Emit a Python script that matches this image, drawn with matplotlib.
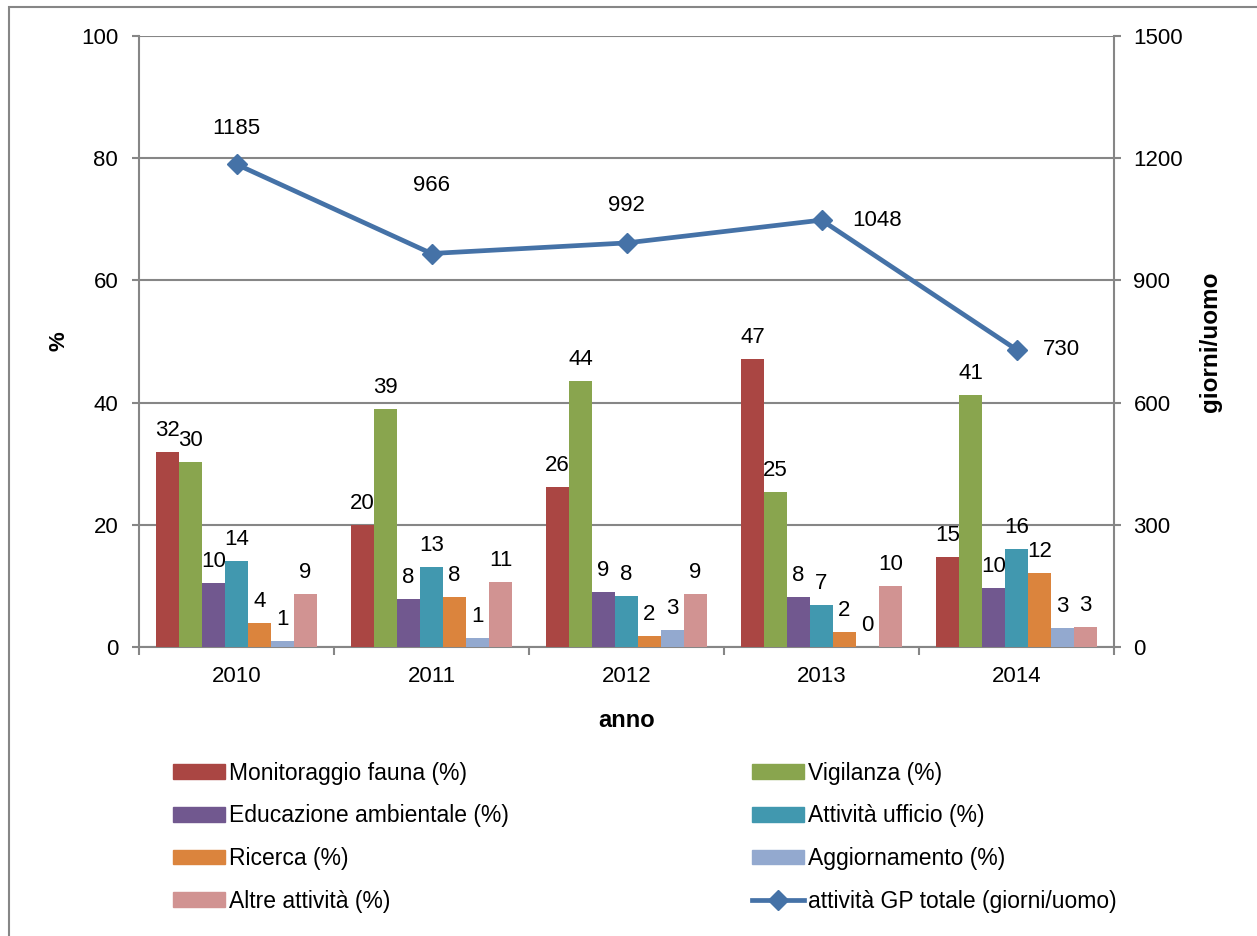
import matplotlib
matplotlib.use('Agg')
import matplotlib.pyplot as plt
import numpy as np
from matplotlib.patches import Rectangle, Patch
from matplotlib.lines import Line2D

plt.rcParams['font.family'] = ['Liberation Sans', 'DejaVu Sans']

# Dati
anni = ['2010', '2011', '2012', '2013', '2014']
serie = ['Monitoraggio fauna (%)', 'Vigilanza (%)', 'Educazione ambientale (%)',
         'Attività ufficio (%)', 'Ricerca (%)', 'Aggiornamento (%)', 'Altre attività (%)']
monitoraggio = [31.9, 20.0, 26.2, 47.1, 14.7]
vigilanza = [30.3, 39.0, 43.5, 25.4, 41.2]
educazione = [10.4, 7.9, 9.0, 8.2, 9.7]
ufficio = [14.1, 13.1, 8.3, 6.9, 16.0]
ricerca = [3.9, 8.2, 1.8, 2.4, 12.1]
aggiornamento = [1.0, 1.4, 2.8, 0.0, 3.1]
altre = [8.7, 10.6, 8.7, 10.0, 3.3]
totale_gp = [1185, 966, 992, 1048, 730]
linea_label = 'attività GP totale (giorni/uomo)'

valori = [monitoraggio, vigilanza, educazione, ufficio, ricerca, aggiornamento, altre]
colori = ['#AA4643', '#89A54E', '#71588F', '#4198AF', '#DB843D', '#93A9CF', '#D19392']
colore_linea = '#4572A7'
grigio = '#868686'

fig = plt.figure(figsize=(12.57, 9.36), dpi=100)
ax = fig.add_axes([139/1257, 1 - 647/936, 975/1257, 611/936])
ax2 = ax.twinx()
ax.set_zorder(1)
ax2.set_zorder(2)
ax.patch.set_visible(False)

x = np.arange(len(anni))
w = 0.118
for i, (vals, col) in enumerate(zip(valori, colori)):
    pos = x + (i - 3) * w
    ax.bar(pos, vals, width=w, color=col, zorder=3)
    for px, v in zip(pos, vals):
        ax.annotate(f'{v:.0f}', (px, v), xytext=(0, 8), textcoords='offset points',
                    ha='center', va='bottom', fontsize=16)

ax.set_xlim(-0.5, 4.5)
ax.set_ylim(0, 100)
ax.set_yticks(range(0, 101, 20))
ax.set_xticks(x)
ax.set_xticklabels(anni)
ax.set_xticks(np.arange(-0.5, 5, 1), minor=True)
ax.tick_params(axis='x', which='major', length=0, pad=14, labelsize=16)
ax.tick_params(axis='x', which='minor', length=6, color=grigio, width=1.5)
ax.tick_params(axis='y', length=5, color=grigio, width=1.5, pad=10, labelsize=16)
ax.grid(axis='y', color=grigio, linewidth=1.5, zorder=0)
for s in ['top', 'right']:
    ax.spines[s].set_visible(False)
for s in ['left', 'bottom']:
    ax.spines[s].set_color(grigio)
    ax.spines[s].set_linewidth(1.5)

ax.set_ylabel('%', fontsize=16, fontweight='bold')
ax.yaxis.set_label_coords(-0.071, 0.5)
ax.set_xlabel('anno', fontsize=17, fontweight='bold')
ax.xaxis.set_label_coords(0.5, -0.101)

# Linea totale
ax2.plot(x, totale_gp, color=colore_linea, linewidth=3.4, marker='D', markersize=10)
offsets = [(0, 26), (0, 49), (0, 27), (40, 0), (32, 0)]
for px, v, off in zip(x, totale_gp, offsets):
    ax2.annotate(str(v), (px, v), xytext=off, textcoords='offset points',
                 ha='center', va='center', fontsize=16)
ax2.set_ylim(0, 1500)
ax2.set_yticks(range(0, 1501, 300))
ax2.tick_params(axis='y', length=5, color=grigio, width=1.5, pad=9, labelsize=16)
for s in ['top', 'left', 'bottom']:
    ax2.spines[s].set_visible(False)
ax2.spines['right'].set_color(grigio)
ax2.spines['right'].set_linewidth(1.5)
ax2.set_ylabel('giorni/uomo', fontsize=17.5, fontweight='bold')
ax2.yaxis.set_label_coords(1.087, 0.5)

# Legenda
handles = [Patch(color=c, label=l) for c, l in zip(colori, serie)]
handles.append(Line2D([], [], color=colore_linea, linewidth=3.4, marker='D',
                      markersize=10, label=linea_label))
col1 = [handles[0], handles[2], handles[4], handles[6]]
col2 = [handles[1], handles[3], handles[5], handles[7]]
for hs, xpos in [(col1, 152/1257), (col2, 731/1257)]:
    fig.legend(handles=hs, loc='upper left', bbox_to_anchor=(xpos, 1 - 741/936),
               frameon=False, fontsize=16.5, handlelength=2.27, handleheight=0.61,
               handletextpad=0.17, labelspacing=0.86)

# Bordo esterno
fig.patches.append(Rectangle((9/1257, -0.1), 1.2, 1.1 - 7/936, transform=fig.transFigure,
                             fill=False, edgecolor=grigio, linewidth=1.5))

fig.savefig('out.png', dpi=100)
